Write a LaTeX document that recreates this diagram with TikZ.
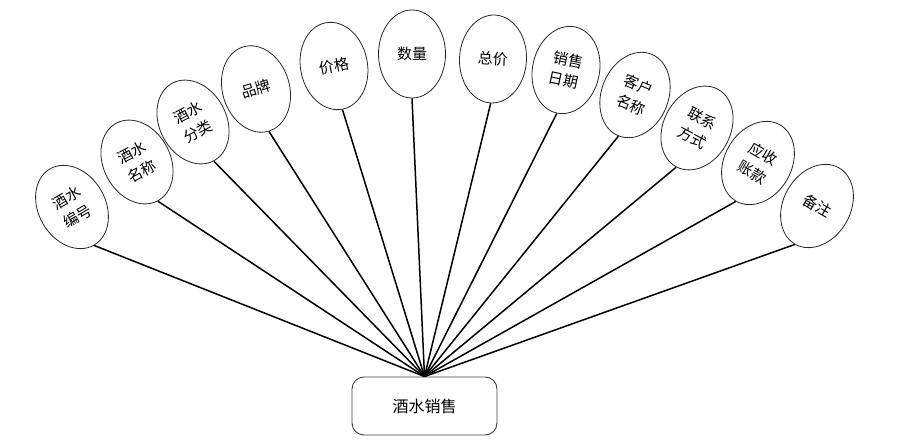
\documentclass[tikz,border=0pt]{standalone}
\usepackage{fontspec}
\newfontfamily\cjk{Noto Sans CJK SC}
\usetikzlibrary{shapes.geometric}
\begin{document}
\begin{tikzpicture}[x=1pt,y=-1pt,
  attr/.style={ellipse, draw=black!85, line width=0.8pt, fill=white, minimum width=67pt, minimum height=88pt, inner sep=0pt, font=\cjk\fontsize{15}{21}\selectfont, align=center},
  link/.style={line width=1.5pt, black},
  mainbox/.style={draw=black!75, rounded corners=12pt, minimum width=145pt, minimum height=58pt, line width=0.9pt, font=\cjk\fontsize{16}{18}\selectfont}]
\useasboundingbox (0,0) rectangle (900,446);
\node[mainbox] (main) at (424.5,406) {酒水销售};
\node[attr, rotate=30]  (a1)  at (72,207)  {酒水\\编号};
\node[attr, rotate=28]  (a2)  at (137,162) {酒水\\名称};
\node[attr, rotate=28]  (a3)  at (193,122) {酒水\\分类};
\node[attr, rotate=17]  (a4)  at (256,89)  {品牌};
\node[attr, rotate=11]  (a5)  at (334,66)  {价格};
\node[attr, rotate=0]   (a6)  at (412,54)  {数量};
\node[attr, rotate=-3]  (a7)  at (493,59)  {总价};
\node[attr, rotate=-12] (a8)  at (566,70)  {销售\\日期};
\node[attr, rotate=-22] (a9)  at (635,95)  {客户\\名称};
\node[attr, rotate=-28] (a10) at (697,128) {联系\\方式};
\node[attr, rotate=-30] (a11) at (758,163) {应收\\账款};
\node[attr, rotate=-30] (a12) at (817,206) {备注};
\foreach \i in {1,...,12} \draw[link] (a\i.south) -- (main.north);
\end{tikzpicture}
\end{document}
